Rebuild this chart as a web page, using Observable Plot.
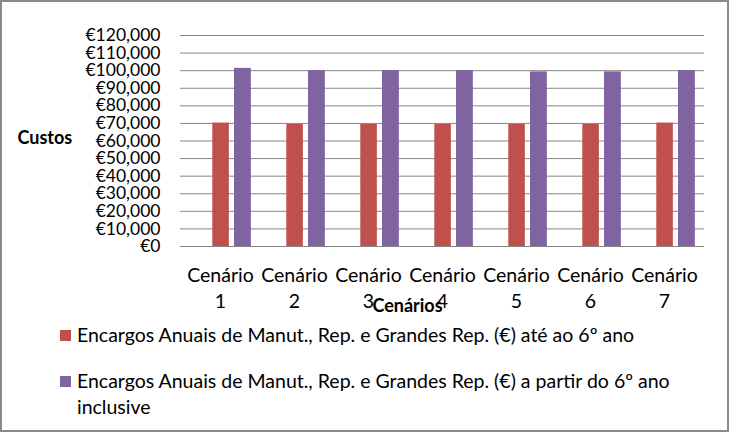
<!DOCTYPE html>
<html>
<head>
<meta charset="utf-8">
<script src="https://cdn.jsdelivr.net/npm/d3@7"></script>
<script src="https://cdn.jsdelivr.net/npm/@observablehq/plot@0.6"></script>
<style>
  html, body { margin: 0; padding: 0; background: #fff; }
  #wrap { position: relative; width: 729px; height: 432px; overflow: hidden; font-family: Lato, "Open Sans", sans-serif; color: #000; }
  #frame { position: absolute; left: 0; top: 0; width: 729px; height: 432px; box-sizing: border-box; border: 2px solid #8a8a8a; pointer-events: none; }
  #chart { position: absolute; left: 0; top: 0; }
  .leg { position: absolute; left: 60px; font-size: 19.5px; line-height: 26px; }
  .sw { position: absolute; left: 0; width: 11px; height: 11px; }
  .lt { position: absolute; left: 17px; white-space: nowrap; }
</style>
</head>
<body>
<div id="wrap">
  <div id="chart"></div>
  <div id="legend"></div>
  <div id="frame"></div>
</div>
<script>
const scenarios = ["Cenário 1", "Cenário 2", "Cenário 3", "Cenário 4", "Cenário 5", "Cenário 6", "Cenário 7"];
const seriesNames = [
  "Encargos Anuais de Manut., Rep. e Grandes Rep. (€) até ao 6º ano",
  "Encargos Anuais de Manut., Rep. e Grandes Rep. (€) a partir do 6º ano inclusive"
];
const seriesColors = ["#C0504D", "#8064A2"];
const valuesAte = [70200, 69400, 69400, 69400, 69400, 69400, 70200];
const valuesAPartir = [101300, 100000, 100000, 100000, 99300, 99300, 100000];
const yTicks = [0, 10000, 20000, 30000, 40000, 50000, 60000, 70000, 80000, 90000, 100000, 110000, 120000];
const yAxisTitle = "Custos";
const xAxisTitle = "Cenários";

const dataAte = scenarios.map((s, i) => ({scenario: s, value: valuesAte[i]}));
const dataAPartir = scenarios.map((s, i) => ({scenario: s, value: valuesAPartir[i]}));

const bw = (729 - 25 - 180) / scenarios.length;

const chart = Plot.plot({
  width: 729,
  height: 432,
  marginLeft: 180,
  marginRight: 25,
  marginTop: 35,
  marginBottom: 186,
  style: {fontFamily: "Lato, 'Open Sans', sans-serif", fontSize: "18px", color: "#000", background: "transparent", overflow: "visible"},
  x: {domain: scenarios, padding: 0},
  y: {domain: [0, 120000]},
  marks: [
    Plot.gridY(yTicks, {stroke: "#868686", strokeOpacity: 1, strokeWidth: 1}),
    Plot.barY(dataAte, {x: "scenario", y: "value", fill: seriesColors[0], insetLeft: 29.3, insetRight: bw - 46.7}),
    Plot.barY(dataAPartir, {x: "scenario", y: "value", fill: seriesColors[1], insetLeft: 51, insetRight: bw - 68.7}),
    Plot.axisY({ticks: yTicks, tickSize: 0, tickPadding: 20, tickFormat: d => "€" + d3.format(",")(d), label: null, fontSize: 17.5}),
    Plot.axisX({tickSize: 0, tickPadding: 17, tickFormat: d => d.replace(" ", "\n"), lineHeight: 1.32, label: null, fontSize: 19.5}),
    Plot.text([yAxisTitle], {frameAnchor: "left", dx: -163, dy: -3, textAnchor: "start", fontWeight: "bold", fontSize: 18, text: d => d}),
    Plot.text([xAxisTitle], {frameAnchor: "bottom", dx: -35, dy: 65, textAnchor: "middle", fontWeight: "bold", fontSize: 18, text: d => d})
  ]
});
document.getElementById("chart").appendChild(chart);

const legend = document.getElementById("legend");
const legendTops = [322, 368];
seriesNames.forEach((name, i) => {
  const item = document.createElement("div");
  item.className = "leg";
  item.style.top = legendTops[i] + "px";
  const sw = document.createElement("div");
  sw.className = "sw";
  sw.style.background = seriesColors[i];
  sw.style.top = "8px";
  const t = document.createElement("div");
  t.className = "lt";
  if (i === 1) {
    t.innerHTML = "Encargos Anuais de Manut., Rep. e Grandes Rep. (€) a partir do 6º ano<br>inclusive";
  } else {
    t.textContent = name;
  }
  item.appendChild(sw);
  item.appendChild(t);
  legend.appendChild(item);
});
</script>
</body>
</html>
